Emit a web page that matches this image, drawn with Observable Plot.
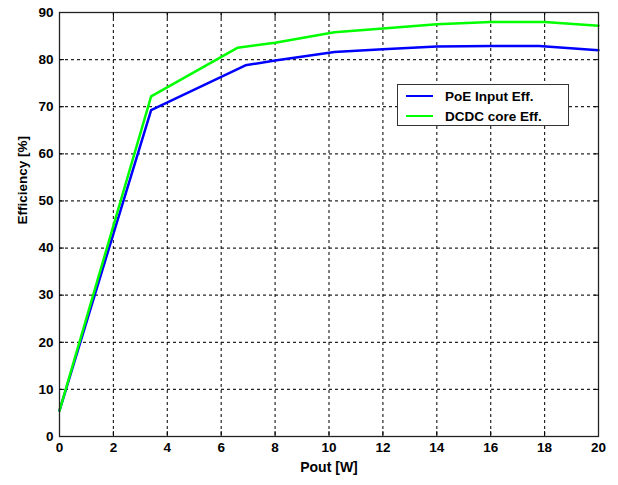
<!DOCTYPE html>
<html><head><meta charset="utf-8">
<script src="https://cdn.jsdelivr.net/npm/d3@7"></script>
<script src="https://cdn.jsdelivr.net/npm/@observablehq/plot@0.6"></script>
<style>
body{margin:0;background:#fff;font-family:"Liberation Sans",Arial,sans-serif}
#wrap{position:relative;width:618px;height:485px}
#legend{position:absolute;left:397px;top:84px;width:172px;height:42px;border:1px solid #333;background:#fff;box-sizing:border-box;font:bold 13.5px "Liberation Sans",Arial,sans-serif;color:#000}
#legend .row{position:absolute;left:0;height:18px;display:flex;align-items:center}
#legend .sw{display:inline-block;width:27px;height:2.5px;margin-left:8px;margin-right:12px}
</style>
</head><body><div id="wrap"><div id="legend"></div></div>
<script>
const seriesNames = ["PoE Input Eff.", "DCDC core Eff."];
const seriesColors = ["#0000ff", "#00ff00"];
const poeX = [0, 3.4, 6.9, 8, 10.2, 12, 14, 16, 17.8, 20];
const poeY = [5.5, 69.3, 78.8, 79.8, 81.6, 82.2, 82.8, 82.9, 82.9, 82.0];
const dcdcX = [0, 3.4, 6.6, 8, 10.2, 12, 14, 16, 18, 20];
const dcdcY = [5.5, 72.2, 82.5, 83.6, 85.8, 86.6, 87.5, 88.0, 88.0, 87.2];
const xTicks = [0, 2, 4, 6, 8, 10, 12, 14, 16, 18, 20];
const yTicks = [0, 10, 20, 30, 40, 50, 60, 70, 80, 90];
const xLabel = "Pout [W]";
const yLabel = "Efficiency [%]";

const data = [
  ...poeX.map((x, i) => ({series: seriesNames[0], x, y: poeY[i]})),
  ...dcdcX.map((x, i) => ({series: seriesNames[1], x, y: dcdcY[i]}))
];

const gridStyle = {stroke: "#000", strokeOpacity: 0.85, strokeDasharray: "3,3", strokeWidth: 1.2};
const innerX = xTicks.slice(1, -1), innerY = yTicks.slice(1, -1);

const plot = Plot.plot({
  width: 618, height: 485,
  marginLeft: 59, marginRight: 20, marginTop: 12, marginBottom: 49,
  style: {fontFamily: "'Liberation Sans', Arial, sans-serif", fontSize: "13.5px", fontWeight: "bold", color: "#000", background: "#fff"},
  x: {domain: [0, 20]},
  y: {domain: [0, 90]},
  color: {domain: seriesNames, range: seriesColors},
  marks: [
    Plot.gridX(innerX, gridStyle),
    Plot.gridY(innerY, gridStyle),
    Plot.line(data, {x: "x", y: "y", stroke: "series", strokeWidth: 2.5}),
    Plot.frame({stroke: "#222", strokeWidth: 1.3}),
    Plot.axisX(xTicks, {anchor: "bottom", tickSize: 0, tickPadding: 6, label: null}),
    Plot.axisX(innerX, {anchor: "bottom", tickSize: -5, tickPadding: 0, tickFormat: () => "", label: null}),
    Plot.axisX(innerX, {anchor: "top", tickSize: -5, tickPadding: 0, tickFormat: () => "", label: null}),
    Plot.axisY(yTicks, {anchor: "left", tickSize: 0, tickPadding: 6, label: null}),
    Plot.axisY(innerY, {anchor: "left", tickSize: -5, tickPadding: 0, tickFormat: () => "", label: null}),
    Plot.axisY(innerY, {anchor: "right", tickSize: -5, tickPadding: 0, tickFormat: () => "", label: null}),
    Plot.text([xLabel], {frameAnchor: "bottom", dy: 35, text: d => d, fontSize: 14, fontWeight: "bold"}),
    Plot.text([yLabel], {frameAnchor: "left", dx: -37, rotate: -90, text: d => d, fontSize: 13.5, fontWeight: "bold"})
  ]
});
document.getElementById("wrap").prepend(plot);

const legend = document.getElementById("legend");
seriesNames.forEach((name, i) => {
  const row = document.createElement("div");
  row.className = "row";
  row.style.top = (i === 0 ? 2 : 22) + "px";
  row.innerHTML = `<span class="sw" style="background:${seriesColors[i]}"></span><span>${name}</span>`;
  legend.appendChild(row);
});
</script>
</body></html>
